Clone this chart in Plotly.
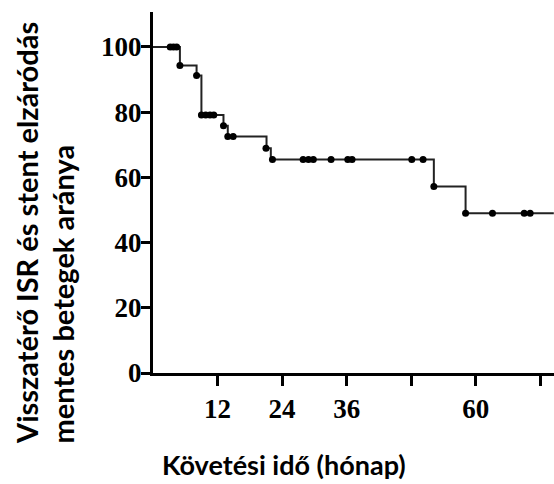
import plotly.graph_objects as go

# Kaplan-Meier step curve (event times, survival %)
step_time = [0, 5.0, 8.1, 9.0, 13.1, 13.9, 21.1, 21.9, 52.2, 58.1, 74.5]
step_value = [100, 94.3, 91.2, 79.1, 75.8, 72.5, 68.9, 65.5, 57.2, 49.0, 49.0]

# Censor marks
cens_time = [3.2, 3.8, 4.4, 5.0, 8.1, 9.0, 9.8, 10.6, 11.3, 13.1, 13.9, 14.9,
             21.0, 22.2, 27.9, 28.9, 29.8, 33.1, 36.2, 37.0, 48.1, 50.2,
             52.2, 58.1, 63.1, 69.0, 70.1]
cens_value = [100, 100, 100, 94.3, 91.2, 79.1, 79.1, 79.1, 79.1, 75.8, 72.5, 72.5,
              68.9, 65.5, 65.5, 65.5, 65.5, 65.5, 65.5, 65.5, 65.5, 65.5,
              57.2, 49.0, 49.0, 49.0, 49.0]

x_tickvals = [12, 24, 36, 48, 60, 72]
x_ticktext = ["12", "24", "36", "", "60", ""]
y_tickvals = [0, 20, 40, 60, 80, 100]

y_title_1 = "Visszatérő ISR és stent elzáródás"
y_title_2 = "mentes betegek aránya"
x_title = "Követési idő (hónap)"

fig = go.Figure()
fig.add_trace(go.Scatter(x=step_time, y=step_value, mode="lines",
                         line=dict(shape="hv", color="#222222", width=2),
                         showlegend=False, hoverinfo="skip"))
fig.add_trace(go.Scatter(x=cens_time, y=cens_value, mode="markers",
                         marker=dict(color="black", size=7),
                         showlegend=False))

L, R, T, B = 153, 0, 12, 111
W, H = 554, 484
pw, ph = W - L - R, H - T - B

def px_x(p):
    return (p - L) / pw

def px_y(p):
    return (H - B - p) / ph

tick_font = dict(family="Liberation Serif", size=27, color="black", weight="bold")
ytitle_font = dict(family="Lato", size=29, color="black", weight="bold")
xtitle_font = dict(family="Lato", size=27, color="black", weight="bold")

fig.update_layout(
    width=W, height=H,
    margin=dict(l=L, r=R, t=T, b=B, pad=0, autoexpand=False),
    plot_bgcolor="white", paper_bgcolor="white",
    xaxis=dict(range=[0, pw / 5.38], showgrid=False, zeroline=False,
               showline=True, linewidth=3, linecolor="black", automargin=False,
               ticks="outside", ticklen=10, tickwidth=3, tickcolor="black",
               tickvals=x_tickvals, ticktext=x_ticktext, tickfont=tick_font),
    yaxis=dict(range=[0, 110.7], showgrid=False, zeroline=False,
               showline=True, linewidth=3, linecolor="black", automargin=False,
               ticks="outside", ticklen=9, tickwidth=3, tickcolor="black",
               ticklabelstandoff=-6,
               tickvals=y_tickvals, tickfont=tick_font),
    annotations=[
        dict(text=y_title_1, textangle=-90, xref="paper", yref="paper",
             x=px_x(26), y=px_y(446), xanchor="center", yanchor="bottom",
             showarrow=False, font=ytitle_font),
        dict(text=y_title_2, textangle=-90, xref="paper", yref="paper",
             x=px_x(62), y=px_y(446), xanchor="center", yanchor="bottom",
             showarrow=False, font=ytitle_font),
        dict(text=x_title, xref="paper", yref="paper",
             x=px_x(160), y=px_y(446), xanchor="left", yanchor="top",
             showarrow=False, font=xtitle_font),
    ],
)

fig.write_html("out.html", config={"displayModeBar": False},
               post_script="document.body.style.margin='0px';")
